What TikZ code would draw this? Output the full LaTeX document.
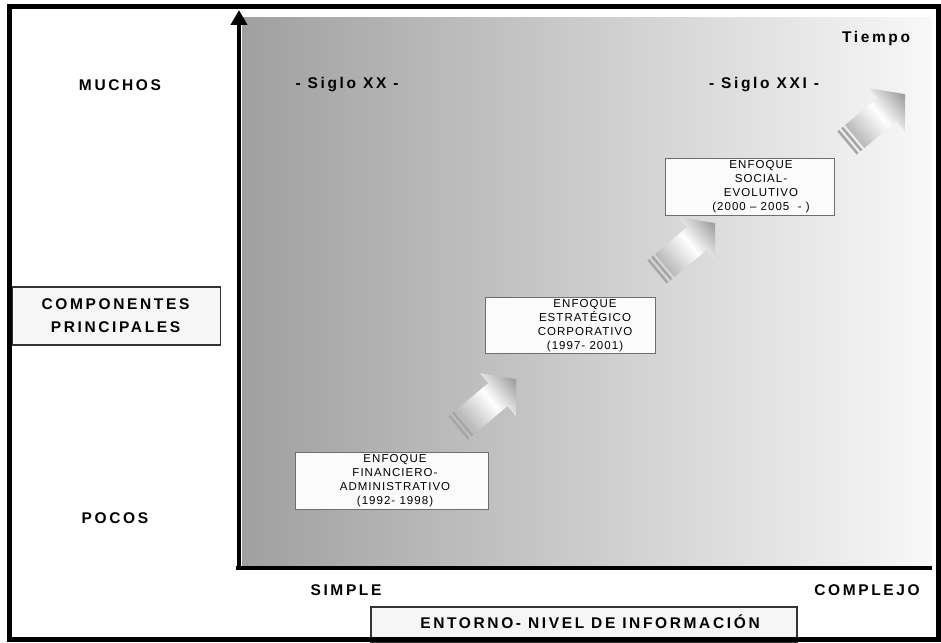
\documentclass[tikz,border=0pt]{standalone}
\usepackage{fontspec}
\setmainfont{Liberation Sans}
\newfontfamily\lblfont[LetterSpace=17]{Liberation Sans}
\newfontfamily\boxfont[LetterSpace=9]{Liberation Sans}
\usetikzlibrary{arrows.meta}
\definecolor{bgl}{RGB}{160,160,160}
\definecolor{bgr}{RGB}{248,248,248}
\definecolor{boxfill}{RGB}{246,246,246}
\definecolor{boxline}{RGB}{110,110,110}
\newcommand\stripedarrow[1]{%
  \begin{scope}[transform canvas={shift={(#1)},rotate=40}]
    \fill[gray!70] (0,-15) rectangle (2.5,15);
    \fill[gray!70] (5,-15) rectangle (7.5,15);
    \shade[left color=gray!55, right color=gray!80, middle color=white]
      (10,-15) -- (52,-15) -- (52,-28) -- (76,0) -- (52,28) -- (52,15) -- (10,15) -- cycle;
  \end{scope}}
\begin{document}
\begin{tikzpicture}[x=1pt,y=-1pt,
  lbl/.style={font=\lblfont\bfseries\fontsize{15.5}{23}\selectfont, align=center, inner sep=0pt},
  boxtxt/.style={font=\boxfont\fontsize{11.5}{14}\selectfont, align=center, inner sep=0pt},
  enfbox/.style={draw=boxline, line width=0.9pt, fill=white!97!gray, inner sep=0pt},
  lblbox/.style={draw=black!80, line width=1.1pt, fill=boxfill, inner sep=0pt}]
\useasboundingbox (0,0) rectangle (941,642);
\fill[white] (0,0) rectangle (941,642);
% background gradient
\shade[left color=bgl, right color=bgr] (242,18) rectangle (932,566);
% axes
\coordinate (O) at (239,568);
\coordinate (Ytop) at (239,10);
\coordinate (Xstart) at (236,568);
\coordinate (Xend) at (932,568);
\draw[line width=4.5pt, -{Triangle[width=16pt,length=15pt]}] (O) -- (Ytop);
\draw[line width=4pt] (Xstart) -- (Xend);
% arrows
\stripedarrow{458,428}
\stripedarrow{657,272}
\stripedarrow{847,143}
% enfoque boxes
\node[enfbox, minimum width=193pt, minimum height=57pt] (b1) at (391.5,480.5) {};
\node[boxtxt] (t1) at (395,481) {ENFOQUE\\FINANCIERO-\\ADMINISTRATIVO\\(1992- 1998)};
\node[enfbox, minimum width=170pt, minimum height=56pt] (b2) at (570,325) {};
\node[boxtxt] (t2) at (585,325.5) {ENFOQUE\\ESTRATÉGICO\\CORPORATIVO\\(1997- 2001)};
\node[enfbox, minimum width=169pt, minimum height=57pt] (b3) at (749.5,186.5) {};
\node[boxtxt] (t3) at (761,187) {ENFOQUE\\SOCIAL-\\EVOLUTIVO\\(2000 – 2005 \ - )};
% labels
\node[lbl] (tiempo) at (876,38) {Tiempo};
\node[lbl] (muchos) at (120,85) {MUCHOS};
\node[lbl] (s20) at (347,85) {- Siglo XX -};
\node[lbl] (s21) at (764,85) {- Siglo XXI -};
\node[lblbox, minimum width=208pt, minimum height=58pt] (compbox) at (116.4,316) {};
\node[lbl] (comp) at (115.5,315.5) {COMPONENTES\\PRINCIPALES};
\node[lbl] (pocos) at (115,518) {POCOS};
\node[lbl] (simple) at (346,590) {SIMPLE};
\node[lbl] (complejo) at (867,590) {COMPLEJO};
\node[lblbox, minimum width=426pt, minimum height=36pt] (entbox) at (584,625) {};
\node[lbl] (ent) at (590,622) {ENTORNO- NIVEL DE INFORMACIÓN};
% frame
\draw[line width=5pt] (9.5,6.5) rectangle (938.5,639.5);
\end{tikzpicture}
\end{document}
